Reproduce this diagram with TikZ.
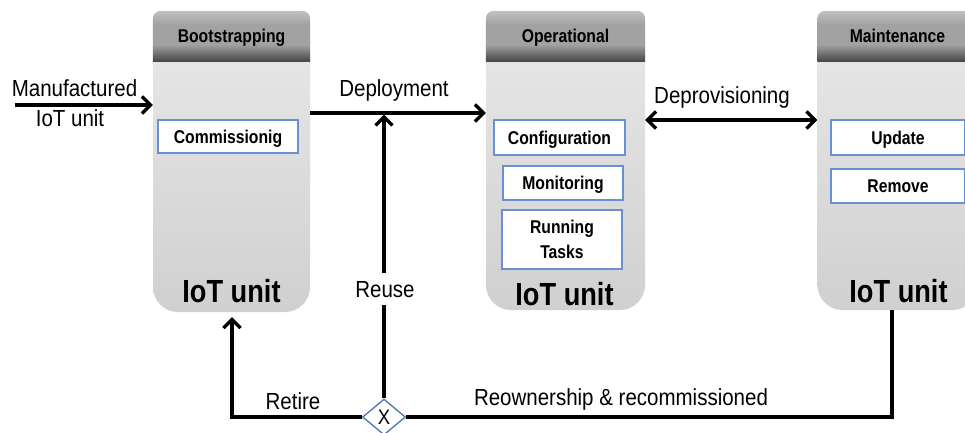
\documentclass[tikz,border=0pt]{standalone}
\usepackage{fontspec}
\setmainfont{Liberation Sans}
\newfontfamily\lblfont[FakeStretch=0.88]{Liberation Sans}
\newfontfamily\narrowfont[FakeStretch=0.85]{Liberation Sans}
\newfontfamily\iotfont[FakeStretch=0.85]{Liberation Sans}
\usetikzlibrary{arrows.meta,shapes.geometric,calc}

\definecolor{hdtop}{HTML}{C2C2C2}
\definecolor{hdmid}{HTML}{A2A2A2}
\definecolor{hdbot}{HTML}{444444}
\definecolor{bodytop}{HTML}{E9E9E9}
\definecolor{bodybot}{HTML}{D0D0D0}
\definecolor{boxblue}{HTML}{6990D2}
\definecolor{diablue}{HTML}{4F72B0}

% header band: light grey on top, darkening towards its lower edge
\pgfdeclareverticalshading{headershade}{100bp}{color(0bp)=(hdbot); color(25bp)=(hdbot); color(42bp)=(hdmid); color(62bp)=(hdmid); color(75bp)=(hdtop); color(100bp)=(hdtop)}

\tikzset{
  colbody/.style={rectangle, rounded corners=25pt, minimum height=300pt,
    inner sep=0pt, top color=bodytop, bottom color=bodybot},
  hdtext/.style={font=\narrowfont\bfseries\fontsize{18.5}{20}\selectfont,
    inner sep=0pt, anchor=base},
  ibox/.style={draw=boxblue, line width=1.2pt, fill=white, inner sep=0pt,
    font=\narrowfont\bfseries\fontsize{18.5}{25}\selectfont},
  capline/.style={text height=13.2pt, text depth=0pt},
  iottext/.style={font=\iotfont\bfseries\fontsize{32}{36}\selectfont,
    inner sep=0pt, anchor=base},
  lbl/.style={font=\lblfont\fontsize{23.3}{26}\selectfont, inner sep=0pt,
    anchor=base},
  conn/.style={line width=3.3pt, black},
  arr/.style={conn, -{Straight Barb[length=8.5pt,width=17pt]}},
  dblarr/.style={conn, {Straight Barb[length=8.5pt,width=17pt]}-{Straight Barb[length=8.5pt,width=17pt]}},
}

% grey header band with small rounded top corners, drawn over a column
\newcommand\colheader[3]{%
  \shade[shading=headershade]
    ($(#1.north west)+(0,51)$) -- ($(#1.north west)+(0,8)$)
    arc[start angle=180, end angle=270, radius=8]
    -- ($(#1.north east)+(-8,0)$)
    arc[start angle=270, end angle=360, radius=8]
    -- ($(#1.north east)+(0,51)$) -- cycle;
  \node[hdtext] (#2) at ($(#1.north)+(0,32)$) {#3};
}

\begin{document}
\begin{tikzpicture}[x=1pt, y=-1pt]
\clip (0,0) rectangle (965,432);
\fill[white] (0,0) rectangle (965,432);

% the three life-cycle columns
\node[colbody, minimum width=157pt, minimum height=301pt] (boot)  at (231.5,161.5) {};
\node[colbody, minimum width=159pt, minimum height=299pt] (op)    at (565.5,160.5) {};
\node[colbody, minimum width=160pt, minimum height=299pt] (maint) at (897.5,160.5) {};

\colheader{boot}{boothd}{Bootstrapping}
\colheader{op}{ophd}{Operational}
\colheader{maint}{mainthd}{Maintenance}

% activities inside each column
\node[ibox, capline, minimum width=140pt, minimum height=33pt] (comm) at (228,136.5) {Commissionig};
\node[ibox, capline, minimum width=131pt, minimum height=35pt] (conf) at (559.5,137.5) {Configuration};
\node[ibox, capline, minimum width=120pt, minimum height=34pt] (mon)  at (563,183) {Monitoring};
\node[ibox, text depth=0pt, align=center, minimum width=120pt, minimum height=59pt] (run) at (562,239.5) {Running\\Tasks};
\node[ibox, capline, minimum width=134pt, minimum height=35pt] (upd)  at (898,137.5) {Update};
\node[ibox, capline, minimum width=134pt, minimum height=34pt] (rem)  at (898,186) {Remove};

\node[iottext] (iot1) at (231.5,302) {IoT unit};
\node[iottext] (iot2) at (564.5,305) {IoT unit};
\node[iottext] (iot3) at (898.5,302) {IoT unit};

% decision point
\node[diamond, draw=diablue, line width=1.3pt, fill=white, inner sep=0pt,
      minimum width=43pt, minimum height=36pt,
      font=\lblfont\fontsize{21}{22}\selectfont] (xd) at (384,417) {X};

% routing points
\coordinate (mstart) at (15,105);
\coordinate (dep) at (394,113);
\coordinate (dp) at (722,120);
\coordinate (rc) at (892,417);
\coordinate (rt) at (232,417);

% connectors
\draw[arr] (mstart) -- (mstart -| boot.west);
\draw[arr] (dep -| boot.east) -- (dep -| op.west);
\draw[dblarr] (dp -| op.east) -- (dp -| maint.west);
\draw[arr, shorten >=1.6pt] (xd.north) -- (xd.north |- dep);
\draw[conn] (rc |- maint.south) -- (rc) -- (xd.east);
\draw[arr, shorten >=5pt] (xd.west) -- (rt) -- (rt |- boot.south);

% labels
\node[lbl] (lman) at (74.5,96) {Manufactured};
\node[lbl] (liot) at (70,126) {IoT unit};
\node[lbl] (ldep) at (394,96) {Deployment};
\node[lbl] (ldp) at (722,103) {Deprovisioning};
\node[lbl, fill=white, inner xsep=3pt, inner ysep=8pt] (lreuse) at (385,297) {Reuse};
\node[lbl] (lret) at (293,409) {Retire};
\node[lbl] (lreo) at (621,405) {Reownership \& recommissioned};
\end{tikzpicture}
\end{document}
